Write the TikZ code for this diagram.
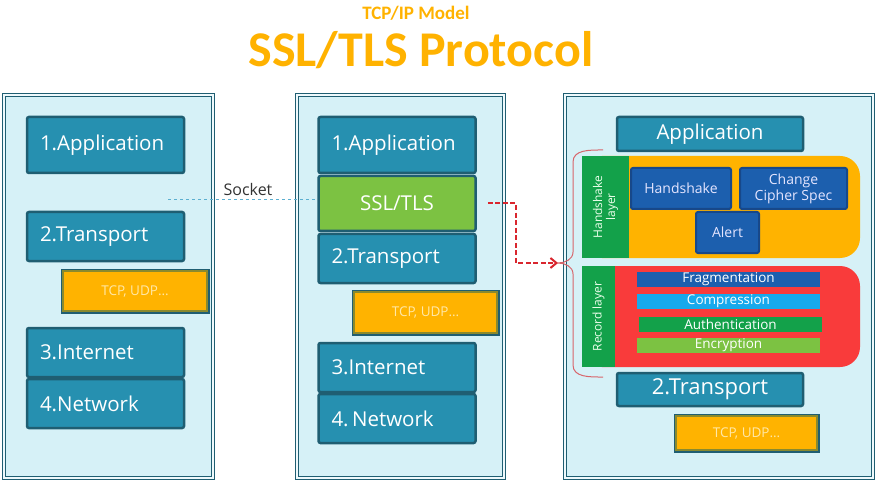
\documentclass[tikz,border=0pt]{standalone}
\usepackage{fontspec}
\setmainfont{Open Sans}
\newfontfamily\titlefont{Carlito}
\usetikzlibrary{arrows.meta}
\definecolor{tealdark}{HTML}{1F5E72}
\definecolor{layerblue}{HTML}{2690B0}
\definecolor{panelfill}{HTML}{D6F1F7}
\definecolor{sslgreen}{HTML}{7CC242}
\definecolor{tcporange}{HTML}{FFB300}
\definecolor{tcpolive}{HTML}{8A8A2E}
\definecolor{tcptext}{HTML}{FFE8A8}
\definecolor{recred}{HTML}{F93B3B}
\definecolor{stripgreen}{HTML}{13A14A}
\definecolor{hsblue}{HTML}{1C5FAE}
\definecolor{hsborder}{HTML}{17488A}
\definecolor{compblue}{HTML}{17A9EC}
\definecolor{titleorange}{HTML}{FFB200}
\definecolor{bracered}{HTML}{D8656B}
\definecolor{arrowred}{HTML}{D9262E}
\definecolor{socketblue}{HTML}{5BAFD0}
\tikzset{
	panel/.style = {rectangle, draw=tealdark, line width=1pt, double=panelfill!40!white, double distance=2pt, fill=panelfill, minimum height=383},
	layer/.style = {rectangle, rounded corners=2pt, draw=tealdark, line width=2.5pt, fill=layerblue, text=white, font=\fontsize{20.5}{24}\selectfont, minimum width=157, text width=131, inner xsep=13, align=left, minimum height=49},
	ssl/.style = {layer, fill=sslgreen, align=center},
	rlayer/.style = {layer, minimum width=186, text width=160, align=center, minimum height=34},
	tcpbox/.style = {rectangle, fill=tcporange, draw=tcpolive, line width=2pt, preaction={draw=tealdark, line width=5pt}, text=tcptext, font=\fontsize{13.5}{15}\selectfont},
	sublayer/.style = {rectangle, rounded corners=20pt, minimum width=278},
	strip/.style = {rectangle, fill=stripgreen, rotate=90, text=white!92!green, font=\fontsize{12}{13}\selectfont, align=center},
	hsbox/.style = {rectangle, rounded corners=2pt, fill=hsblue, draw=hsborder, line width=2pt, text=white!90!blue, font=\fontsize{14}{16}\selectfont, align=center, minimum height=41},
	bar/.style = {rectangle, inner sep=0pt, text=white, font=\fontsize{13.5}{15}\selectfont, minimum height=15},
	brace/.style = {draw=bracered, line width=1pt},
	line/.style = {draw=arrowred, line width=2pt, dash pattern=on 5pt off 2.5pt, -{Straight Barb[length=6pt, width=10pt]}}
}
\begin{document}
\begin{tikzpicture}[x=1pt, y=-1pt]
	\useasboundingbox (0,0) rectangle (878,481);
	% Title
	\node (model) at (416,13) [text=titleorange, font=\titlefont\bfseries\fontsize{19}{21}\selectfont] {TCP/IP Model};
	\node (title) at (421,50) [text=titleorange, font=\titlefont\bfseries\fontsize{50}{54}\selectfont] {SSL/TLS Protocol};

	% Define the three stacks
	\node (panel_left) [panel, minimum width=209] at (108.5,286.5) {};
	\node (panel_mid) [panel, minimum width=207] at (400.5,286.5) {};
	\node (panel_right) [panel, minimum width=308] at (719,286.5) {};

	% Plain TCP/IP stack
	\node (app_left) [layer, minimum height=56] at (105.5,145) {1.Application};
	\node (tr_left) [layer] at (105.5,236.5) {2.Transport};
	\node (tcp_left) [tcpbox, minimum width=144, minimum height=40] at (135,291) {TCP, UDP\dots};
	\node (in_left) [layer] at (105.5,352.5) {3.Internet};
	\node (net_left) [layer] at (105.5,403.5) {4.Network};

	% Stack with SSL/TLS
	\node (app_mid) [layer, minimum height=56] at (397,145) {1.Application};
	\node (ssl_mid) [ssl, minimum height=55] at (397,203.5) {SSL/TLS};
	\node (tr_mid) [layer] at (397,258.5) {2.Transport};
	\node (tcp_mid) [tcpbox, minimum width=143, minimum height=41] at (425.5,312.5) {TCP, UDP\dots};
	\node (in_mid) [layer] at (397,367.5) {3.Internet};
	\node (net_mid) [layer] at (397,418.5) {4.\,Network};

	% SSL/TLS in detail
	\node (app_right) [rlayer] at (710,134) {Application};
	\node (hs_layer) [sublayer, fill=tcporange, minimum height=102] at (721,207) {};
	\node (hs_strip) [strip, minimum width=102, minimum height=47] at (605.5,207) {Handshake\\layer};
	\node (handshake) [hsbox, minimum width=100] at (681,188.5) {Handshake};
	\node (ccs) [hsbox, minimum width=107] at (793.5,188.5) {Change\\Cipher Spec};
	\node (alert) [hsbox, minimum width=63] at (727.5,232.5) {Alert};
	\node (rec_layer) [sublayer, fill=recred, minimum height=101] at (721,316.5) {};
	\node (rec_strip) [strip, minimum width=101, minimum height=33] at (598.5,316.5) {Record layer};
	\node (frag) [bar, fill=hsblue, minimum width=183] at (728.5,279.5) {Fragmentation};
	\node (comp) [bar, fill=compblue, minimum width=183] at (728.5,301) {Compression};
	\node (auth) [bar, fill=stripgreen, minimum width=183] at (730.5,324) {Authentication};
	\node (enc) [bar, fill=sslgreen, minimum width=183] at (728.5,345) {Encryption};
	\node (tr_right) [rlayer, minimum height=33, font=\fontsize{22}{24}\selectfont] at (710,389.5) {2.Transport};
	\node (tcp_right) [tcpbox, minimum width=141, minimum height=34] at (746.5,433) {TCP, UDP\dots};

	% Socket and links
	\coordinate (sock_start) at (168,199);
	\draw [socketblue, line width=0.8pt, dashed] (sock_start) -- (sock_start -| ssl_mid.west);
	\node (socket) at (248,190) [text=black!80, font=\fontsize{16}{18}\selectfont] {Socket};
	\coordinate (brace_tip) at (558,263);
	\coordinate (bend) at (516,263);
	\path [brace] (603,150) to[out=180, in=90] (573,162) -- (573,252) to[out=-90, in=0] (brace_tip) to[out=0, in=90] (573,274) -- (573,365) to[out=-90, in=180] (603,377);
	\path [line] ([xshift=11pt]ssl_mid.east) -| (bend) -- (brace_tip);
\end{tikzpicture}
\end{document}
